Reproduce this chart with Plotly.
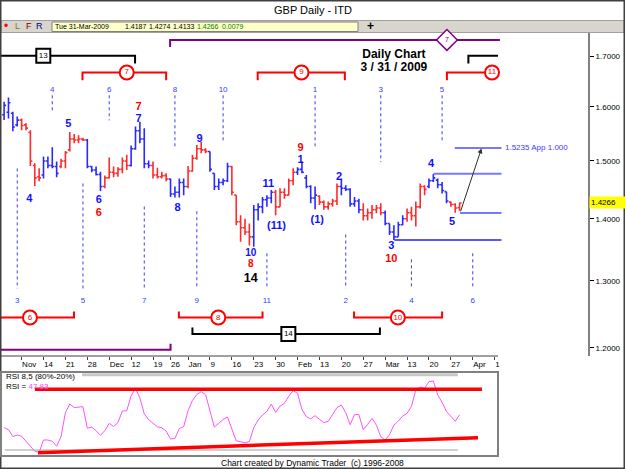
import math
import pandas as pd
import plotly.graph_objects as go

# ---------------- data ----------------
HOLIDAYS = {"2008-12-25", "2009-01-01"}
calendar = [d for d in pd.bdate_range("2008-11-03", "2009-04-10")
            if d.strftime("%Y-%m-%d") not in HOLIDAYS]
cal_str = [d.strftime("%Y-%m-%d") for d in calendar]
N = 105  # Nov 3 2008 .. Mar 31 2009
bar_x = list(range(N))

opens = [1.585, 1.590, 1.588, 1.566, 1.575, 1.566, 1.552, 1.492, 1.472, 1.475,
         1.500, 1.492, 1.490, 1.490, 1.500, 1.520, 1.540, 1.538, 1.540, 1.538,
         1.490, 1.484, 1.476, 1.455, 1.470, 1.480, 1.478, 1.485, 1.500, 1.492,
         1.522, 1.555, 1.540, 1.495, 1.492, 1.475, 1.472, 1.474, 1.468, 1.442,
         1.445, 1.462, 1.455, 1.482, 1.505, 1.522, 1.520, 1.517, 1.478, 1.455,
         1.462, 1.465, 1.490, 1.440, 1.395, 1.385, 1.378, 1.370, 1.415, 1.420,
         1.432, 1.435, 1.445, 1.420, 1.445, 1.440, 1.465, 1.480, 1.485, 1.470,
         1.455, 1.435, 1.438, 1.428, 1.420, 1.425, 1.430, 1.455, 1.452, 1.450,
         1.425, 1.430, 1.415, 1.405, 1.410, 1.415, 1.418, 1.410, 1.392, 1.378,
         1.370, 1.390, 1.400, 1.410, 1.405, 1.420, 1.455, 1.455, 1.465, 1.466,
         1.458, 1.446, 1.428, 1.424, 1.4187]
highs = [1.610, 1.618, 1.591, 1.582, 1.578, 1.569, 1.556, 1.496, 1.487, 1.508,
         1.508, 1.525, 1.499, 1.504, 1.518, 1.553, 1.549, 1.547, 1.542, 1.540,
         1.491, 1.490, 1.481, 1.474, 1.506, 1.490, 1.489, 1.506, 1.511, 1.528,
         1.563, 1.572, 1.560, 1.501, 1.499, 1.488, 1.481, 1.478, 1.469, 1.455,
         1.469, 1.469, 1.491, 1.511, 1.529, 1.535, 1.523, 1.517, 1.478, 1.469,
         1.469, 1.497, 1.491, 1.440, 1.406, 1.400, 1.392, 1.423, 1.426, 1.437,
         1.440, 1.449, 1.449, 1.452, 1.452, 1.469, 1.487, 1.489, 1.499, 1.475,
         1.457, 1.455, 1.440, 1.431, 1.429, 1.434, 1.460, 1.469, 1.457, 1.452,
         1.437, 1.434, 1.426, 1.417, 1.423, 1.423, 1.426, 1.414, 1.392, 1.389,
         1.395, 1.406, 1.417, 1.420, 1.429, 1.460, 1.457, 1.469, 1.477, 1.469,
         1.463, 1.446, 1.429, 1.426, 1.4274]
lows = [1.575, 1.578, 1.554, 1.563, 1.556, 1.556, 1.491, 1.456, 1.464, 1.469,
        1.487, 1.487, 1.471, 1.487, 1.487, 1.517, 1.532, 1.532, 1.536, 1.487,
        1.480, 1.474, 1.447, 1.452, 1.469, 1.471, 1.472, 1.478, 1.484, 1.490,
        1.520, 1.532, 1.487, 1.487, 1.469, 1.469, 1.469, 1.464, 1.437, 1.436,
        1.436, 1.440, 1.452, 1.481, 1.502, 1.514, 1.514, 1.481, 1.449, 1.449,
        1.457, 1.463, 1.440, 1.389, 1.362, 1.373, 1.356, 1.354, 1.397, 1.409,
        1.420, 1.426, 1.406, 1.420, 1.434, 1.440, 1.457, 1.475, 1.478, 1.452,
        1.426, 1.416, 1.423, 1.415, 1.415, 1.420, 1.423, 1.440, 1.447, 1.420,
        1.420, 1.409, 1.397, 1.397, 1.400, 1.409, 1.406, 1.389, 1.373, 1.365,
        1.370, 1.389, 1.395, 1.397, 1.387, 1.417, 1.440, 1.452, 1.463, 1.452,
        1.443, 1.426, 1.420, 1.410, 1.4133]
closes = [1.603, 1.608, 1.562, 1.575, 1.565, 1.560, 1.500, 1.470, 1.470, 1.500,
          1.492, 1.490, 1.478, 1.500, 1.515, 1.540, 1.538, 1.540, 1.538, 1.490,
          1.484, 1.476, 1.455, 1.470, 1.480, 1.478, 1.485, 1.500, 1.492, 1.522,
          1.555, 1.540, 1.495, 1.492, 1.475, 1.472, 1.474, 1.468, 1.442, 1.445,
          1.462, 1.455, 1.482, 1.505, 1.522, 1.520, 1.517, 1.485, 1.455, 1.462,
          1.465, 1.490, 1.445, 1.395, 1.385, 1.378, 1.370, 1.415, 1.420, 1.432,
          1.435, 1.445, 1.420, 1.445, 1.440, 1.465, 1.480, 1.485, 1.480, 1.455,
          1.435, 1.440, 1.428, 1.420, 1.425, 1.430, 1.455, 1.452, 1.450, 1.425,
          1.430, 1.415, 1.405, 1.410, 1.415, 1.418, 1.410, 1.392, 1.378, 1.370,
          1.390, 1.400, 1.410, 1.405, 1.420, 1.455, 1.450, 1.465, 1.470, 1.458,
          1.448, 1.430, 1.424, 1.418, 1.4266]
# Dynamic Trader bar-colour trend state (1 = blue, -1 = red)
trend = [1, 1, 1, 1, -1, -1, -1, -1, -1, 1,
         1, 1, 1, -1, -1, -1, -1, -1, -1, 1,
         1, 1, 1, -1, -1, -1, -1, -1, -1, 1,
         1, 1, 1, 1, -1, -1, -1, -1, 1, 1,
         1, 1, -1, -1, -1, -1, -1, 1, 1, 1,
         1, 1, -1, -1, -1, -1, -1, 1, 1, 1,
         1, 1, -1, -1, -1, -1, -1, 1, 1, 1,
         1, 1, -1, -1, -1, -1, -1, 1, 1, 1,
         1, 1, -1, -1, -1, -1, -1, 1, 1, 1,
         1, 1, -1, -1, -1, -1, -1, 1, 1, 1,
         1, 1, -1, -1, -1]
rsi = [37.6, 36.1, 30.7, 31.8, 30.9, 27.1, 22.8, 19.0, 18.2, 27.9,
       27.9, 26.9, 23.0, 30.5, 49.5, 56.3, 53.5, 54.1, 54.2, 37.2,
       38.1, 35.2, 31.6, 35.3, 41.0, 38.5, 41.7, 50.8, 51.0, 62.7,
       68.6, 61.1, 48.6, 44.0, 41.1, 38.3, 37.5, 35.0, 28.6, 29.2,
       36.9, 38.4, 51.0, 59.1, 63.8, 66.0, 63.7, 49.9, 38.1, 41.0,
       44.1, 46.0, 37.1, 27.2, 26.6, 25.6, 26.7, 37.6, 43.7, 47.6,
       50.5, 56.2, 49.7, 54.7, 56.8, 62.5, 66.8, 64.8, 51.9, 46.4,
       44.5, 47.1, 44.2, 41.6, 42.6, 48.2, 53.5, 55.5, 49.4, 40.0,
       47.9, 48.0, 36.0, 40.1, 45.0, 39.6, 30.5, 27.9, 32.1, 39.7,
       42.8, 46.8, 48.9, 54.5, 67.4, 69.7, 68.7, 74.0, 74.5, 63.4,
       57.6, 50.4, 46.3, 42.7, 47.83]

tick_dates = ["2008-11-07", "2008-11-14", "2008-11-21", "2008-11-28", "2008-12-05",
              "2008-12-12", "2008-12-19", "2008-12-26", "2009-01-02", "2009-01-09",
              "2009-01-16", "2009-01-23", "2009-01-30", "2009-02-06", "2009-02-13",
              "2009-02-20", "2009-02-27", "2009-03-06", "2009-03-13", "2009-03-20",
              "2009-03-27", "2009-04-03", "2009-04-10"]
tick_labels = ["Nov", "14", "21", "28", "Dec", "12", "19", "26", "Jan", "9", "16", "23",
               "30", "Feb", "13", "20", "27", "Mar", "13", "20", "27", "Apr", "1"]
price_ticks = [1.2, 1.3, 1.4, 1.5, 1.6, 1.7]

# wave counts (bar position, price, label)
blue_waves = [(5.75, 1.4337, "4"), (14.66, 1.5670, "5"), (21.6, 1.4308, "6"),
              (30.7, 1.5758, "7"), (39.6, 1.4184, "8"), (44.6, 1.5391, "9"),
              (67.7, 1.5020, "1"), (60.3, 1.4585, "11"), (62.2, 1.3870, "(11)"),
              (71.5, 1.3969, "(1)"), (76.5, 1.4713, "2"),
              (88.4, 1.3555, "3"), (97.5, 1.4933, "4"), (102.3, 1.3941, "5")]
red_waves = [(21.6, 1.4095, "6"), (30.7, 1.5985, "7"), (67.7, 1.5225, "9"),
             (88.4, 1.3335, "10")]
# stacked labels at the January low
low_stack_blue = [(56.3, 1.3430, "10")]
low_stack_red = [(56.3, 1.3250, "8")]
black_waves = [(56.3, 1.3035, "14")]

# time cycle markers: bar index, label, price extent of dotted line
top_cycles = [(11, "4", 1.5935), (24, "6", 1.5745), (39, "8", 1.5227), (50, "10", 1.5343),
              (71, "1", 1.5251), (86, "3", 1.4979), (100, "5", 1.5343)]
bottom_cycles = [(3, "3", 1.4867), (18, "5", 1.4602), (32, "7", 1.4206), (44, "9", 1.4126),
                 (60, "11", 1.3434), (78, "2", 1.3738), (93, "4", 1.3337), (107, "6", 1.3434)]

# target / swing levels (start bar, price)
target_price = 1.5235
levels = [(102.9, 1.5232, "#7878ff", 2), (98.0, 1.4772, "#7878ff", 2),
          (104.1, 1.4098, "#7878ff", 2), (89.1, 1.3650, "#2020ff", 1.5)]

# RSI trend lines (bar, rsi)
rsi_upper = [(7.05, 67.9), (109.1, 67.9)]
rsi_lower = [(7.74, 17.9), (108.2, 29.7)]

# ---------------- geometry ----------------
W, H = 625, 469
PL, PR, PT, PB = 0, 588, 33, 456
PRICE_BOTTOM_PX = 356
RSI_TOP_PX = 372
RSI_RIGHT_PX = 498
BAR0, STEP = 4.1, 4.38
x_lo = (PL - BAR0) / STEP
x_hi = (PR - BAR0) / STEP
x_edge = (RSI_RIGHT_PX - BAR0) / STEP
PH = PB - PT


def py(y):
    return (PB - y) / PH


def pxx(x):
    return x / (PR - PL)


FONT = "Liberation Sans, Arial, sans-serif"
BLUE_BAR = "#2a2aff"
RED_BAR = "#ff2a2a"
PURPLE = "#800080"
CYC = "#3a3aff"

fig = go.Figure()

# ---------------- price bars ----------------
for tv, col in [(1, BLUE_BAR), (-1, RED_BAR)]:
    idx = [i for i in range(N) if trend[i] == tv]
    fig.add_trace(go.Ohlc(
        x=[bar_x[i] for i in idx], open=[opens[i] for i in idx],
        high=[highs[i] for i in idx], low=[lows[i] for i in idx],
        close=[closes[i] for i in idx],
        increasing=dict(line=dict(color=col, width=1.6)),
        decreasing=dict(line=dict(color=col, width=1.6)),
        tickwidth=0.45, hoverinfo="skip", showlegend=False,
        xaxis="x", yaxis="y"))


def seg_trace(segs, color, width, dash="solid", xa="x", ya="y"):
    xs, ys = [], []
    for s in segs:
        for (a, b) in s:
            xs.append(a)
            ys.append(b)
        xs.append(None)
        ys.append(None)
    fig.add_trace(go.Scatter(x=xs, y=ys, mode="lines",
                             line=dict(color=color, width=width, dash=dash),
                             hoverinfo="skip", showlegend=False, xaxis=xa, yaxis=ya))


def text_trace(items, color, size, bold=True):
    fig.add_trace(go.Scatter(
        x=[a for a, b, c in items], y=[b for a, b, c in items],
        text=[("<b>%s</b>" % c) if bold else c for a, b, c in items],
        mode="text", textposition="middle center",
        textfont=dict(color=color, size=size, family=FONT),
        hoverinfo="skip", showlegend=False, xaxis="x", yaxis="y"))


def marker_trace(items, symbol, size, line_color, text_color, tsize, lw=2):
    fig.add_trace(go.Scatter(
        x=[a for a, b, c in items], y=[b for a, b, c in items], text=[c for a, b, c in items],
        mode="markers+text", textposition="middle center",
        marker=dict(symbol=symbol, size=size, color="white",
                    line=dict(color=line_color, width=lw)),
        textfont=dict(color=text_color, size=tsize, family=FONT),
        hoverinfo="skip", showlegend=False, xaxis="x", yaxis="y", cliponaxis=False))


# ---------------- cycle dotted lines ----------------
TOP_Y0, TOP_LBL = 1.6224, 1.6321
BOT_Y1, BOT_LBL = 1.2877, 1.2683
seg_trace([[(c[0], TOP_Y0), (c[0], c[2])] for c in top_cycles], CYC, 1, "dot")
seg_trace([[(c[0], c[2]), (c[0], BOT_Y1)] for c in bottom_cycles], CYC, 1, "dot")
text_trace([(c[0], TOP_LBL, c[1]) for c in top_cycles], CYC, 8, bold=False)
text_trace([(c[0], BOT_LBL, c[1]) for c in bottom_cycles], CYC, 8, bold=False)

# ---------------- brackets ----------------
Y_PURP_T, Y_PURP_T2 = 1.7332, 1.7186
Y_BLK_T, Y_BLK_T2 = 1.7006, 1.6852
Y_RED_T, Y_RED_T2 = 1.6672, 1.6517
Y_RED_B, Y_RED_B2 = 1.2442, 1.2532
Y_BLK_B, Y_BLK_B2 = 1.2199, 1.2296
Y_PURP_B, Y_PURP_B2 = 1.1972, 1.2059

seg_trace([[(37.9, Y_PURP_T2), (37.9, Y_PURP_T), (113.2, Y_PURP_T)],
           [(x_lo, Y_PURP_B), (38.0, Y_PURP_B), (38.0, Y_PURP_B2)]], PURPLE, 2)
seg_trace([[(x_lo, Y_BLK_T), (29.9, Y_BLK_T), (29.9, Y_BLK_T2)],
           [(106.0, Y_BLK_T2), (106.0, Y_BLK_T), (x_edge, Y_BLK_T)],
           [(43.0, Y_BLK_B2), (43.0, Y_BLK_B), (85.8, Y_BLK_B), (85.8, Y_BLK_B2)]], "black", 2)
seg_trace([[(17.9, Y_RED_T2), (17.9, Y_RED_T), (37.0, Y_RED_T), (37.0, Y_RED_T2)],
           [(57.9, Y_RED_T2), (57.9, Y_RED_T), (77.8, Y_RED_T), (77.8, Y_RED_T2)],
           [(101.1, Y_RED_T2), (101.1, Y_RED_T), (x_edge, Y_RED_T)],
           [(x_lo, Y_RED_B), (15.96, Y_RED_B), (15.96, Y_RED_B2)],
           [(39.9, Y_RED_B2), (39.9, Y_RED_B), (59.0, Y_RED_B), (59.0, Y_RED_B2)],
           [(79.9, Y_RED_B2), (79.9, Y_RED_B), (100.0, Y_RED_B), (100.0, Y_RED_B2)]], "red", 2)

marker_trace([(28.0, Y_RED_T, "7"), (67.9, Y_RED_T, "9"), (111.4, Y_RED_T, "11"),
              (5.9, Y_RED_B, "6"), (48.9, Y_RED_B, "8"), (89.9, Y_RED_B, "10")],
             "circle", 14, "red", "red", 8)
marker_trace([(8.95, Y_BLK_T, "13"), (64.9, Y_BLK_B, "14")], "square", 14, "black", "black", 8)
marker_trace([(101.1, Y_PURP_T, "7")], "diamond", 16, PURPLE, PURPLE, 7, lw=1.5)

# ---------------- levels & projection ----------------
for (x0, yv, col, w) in levels:
    seg_trace([[(x0, yv), (x_edge + 0.8, yv)]], col, w)
fig.add_trace(go.Scatter(x=[x_edge + 1.6], y=[1.5232], mode="text", textposition="middle right",
                         text=["%.4f App 1.000" % target_price],
                         textfont=dict(color="#3a3aff", size=8, family=FONT),
                         hoverinfo="skip", showlegend=False, cliponaxis=False))

# ---------------- wave labels ----------------
text_trace(blue_waves, "#1010ff", 11)
text_trace(red_waves, "#ff0000", 11)
text_trace(low_stack_blue, "#1010ff", 10)
text_trace(low_stack_red, "#ff0000", 10)
text_trace(black_waves, "black", 12.5)
text_trace([(89.0, 1.7022, "Daily Chart"), (89.0, 1.6752, "3 / 31 / 2009")], "black", 12)

# ---------------- RSI panel ----------------
fig.add_trace(go.Scatter(x=bar_x, y=rsi, mode="lines", line=dict(color="#ff50ff", width=1),
                         hoverinfo="skip", showlegend=False, xaxis="x2", yaxis="y2"))
seg_trace([[(0.2, 20), (103.6, 20)]], "#a0a0a0", 1, xa="x2", ya="y2")
seg_trace([[(17.8, 79.5), (103.6, 79.5)]], "#c8c8c8", 3, xa="x2", ya="y2")
seg_trace([rsi_upper], "red", 3.5, xa="x2", ya="y2")
seg_trace([rsi_lower], "red", 3.5, xa="x2", ya="y2")

# ---------------- layout ----------------
tickvals = [cal_str.index(d) for d in tick_dates]
PRICE_DOM0 = py(PRICE_BOTTOM_PX)
RSI_DOM1 = py(RSI_TOP_PX)
rsi_lo = 20 - (456 - 450) / 1.267
rsi_hi = 80 + (374 - 372) / 1.267

shapes = [
    # outer frame
    dict(type="rect", xref="paper", yref="paper", x0=pxx(0.5), x1=pxx(624.5), y0=py(468.5), y1=py(0.5),
         line=dict(color="#404040", width=2), layer="above"),
    # title separator and toolbar
    dict(type="rect", xref="paper", yref="paper", x0=pxx(1), x1=pxx(624), y0=py(32.5), y1=py(20.5),
         fillcolor="#d8d5ce", line=dict(color="#a0a0a0", width=1), layer="below"),
    dict(type="rect", xref="paper", yref="paper", x0=pxx(52), x1=pxx(358), y0=py(31.5), y1=py(22),
         fillcolor="#ffffc8", line=dict(color="#808080", width=1), layer="below"),
    # bottom axis line of price panel
    dict(type="line", xref="x", yref="paper", x0=x_lo, x1=x_edge, y0=PRICE_DOM0, y1=PRICE_DOM0,
         line=dict(color="#404040", width=1)),
    # RSI box
    dict(type="rect", xref="x2 domain", yref="y2 domain", x0=0.002, x1=1, y0=0, y1=1,
         line=dict(color="#808080", width=2)),
]

ann = []


def pann(x, y, text, color="black", size=8, anchor="left", **kw):
    ann.append(dict(xref="paper", yref="paper", x=pxx(x), y=py(y), text=text, showarrow=False,
                    xanchor=anchor, yanchor="middle",
                    font=dict(color=color, size=size, family=FONT), **kw))


pann(312.5, 10, "GBP Daily - ITD", size=11, anchor="center")
pann(2, 26.5, "•", color="red", size=12)
pann(13, 26.5, "L", color="#808000", size=9)
pann(24, 26.5, "F", color="#800000", size=9)
pann(34, 26.5, "R", color="#000080", size=9)
pann(53, 26.8, "Tue 31-Mar-2009", size=7)
pann(123, 26.8, "%.4f" % opens[-1], size=7)
pann(147, 26.8, "%.4f" % highs[-1], size=7)
pann(171, 26.8, "%.4f" % lows[-1], size=7)
pann(195, 26.8, "%.4f" % closes[-1], color="#008000", size=7)
pann(220, 26.8, "%.4f" % (closes[-1] - opens[-1]), color="#008000", size=7)
pann(370, 26.5, "<b>+</b>", size=12, anchor="center")
pann(312.5, 463, "Chart created by Dynamic Trader  (c) 1996-2008", size=8.5, anchor="center")

# RSI labels
ann.append(dict(xref="x2 domain", yref="y2 domain", x=0.008, y=py(376.5) / RSI_DOM1,
                text="RSI 8,5 (80%-20%)", showarrow=False, xanchor="left", yanchor="middle",
                font=dict(size=8, family=FONT, color="black")))
ann.append(dict(xref="x2 domain", yref="y2 domain", x=0.008, y=py(386) / RSI_DOM1,
                text="RSI = <span style='color:#ff40ff'>%.2f</span>" % rsi[-1], showarrow=False,
                xanchor="left", yanchor="middle", font=dict(size=8, family=FONT, color="black")))

# last price flag on price axis
ann.append(dict(xref="paper", yref="y", x=1.0, y=math.log10(closes[-1]), text="%.4f" % closes[-1],
                showarrow=False, xanchor="left", yanchor="middle", xshift=1, bgcolor="#ffff00",
                width=35, align="left", borderpad=1, font=dict(size=8, family=FONT, color="black")))

# projection arrow from swing low to target
ann.append(dict(xref="x", yref="y", axref="x", ayref="y",
                x=109.0, y=math.log10(1.5227), ax=104.1, ay=math.log10(1.4098),
                text="", showarrow=True, arrowhead=2, arrowsize=1, arrowwidth=1,
                arrowcolor="#303030"))

fig.update_layout(
    width=W, height=H, margin=dict(l=PL, r=W - PR, t=PT, b=H - PB, pad=0),
    paper_bgcolor="white", plot_bgcolor="white", showlegend=False,
    font=dict(family=FONT, size=8, color="black"),
    xaxis=dict(domain=[0, 1], range=[x_lo, x_hi], anchor="y", showgrid=False, zeroline=False,
               showline=False, tickvals=tickvals, ticktext=tick_labels, ticks="outside",
               ticklen=3, tickcolor="#404040", tickangle=0,
               tickfont=dict(size=8, family=FONT),
               ticklabelposition="outside right", rangeslider=dict(visible=False)),
    yaxis=dict(domain=[PRICE_DOM0, 1], type="log",
               range=[math.log10(1.18830), math.log10(1.74770)],
               side="right", anchor="x", showgrid=False, zeroline=False,
               showline=True, linecolor="#808080", linewidth=2,
               tickvals=price_ticks, ticktext=["%.4f" % v for v in price_ticks],
               ticks="outside", ticklen=4, tickcolor="black", tickfont=dict(size=8, family=FONT)),
    xaxis2=dict(domain=[0, pxx(RSI_RIGHT_PX)], range=[x_lo, x_edge], anchor="y2",
                showgrid=False, zeroline=False, showticklabels=False, ticks=""),
    yaxis2=dict(domain=[0, RSI_DOM1], range=[rsi_lo, rsi_hi], anchor="x2",
                showgrid=False, zeroline=False, showticklabels=False, ticks=""),
    shapes=shapes, annotations=ann,
)

fig.write_html("out.html")
